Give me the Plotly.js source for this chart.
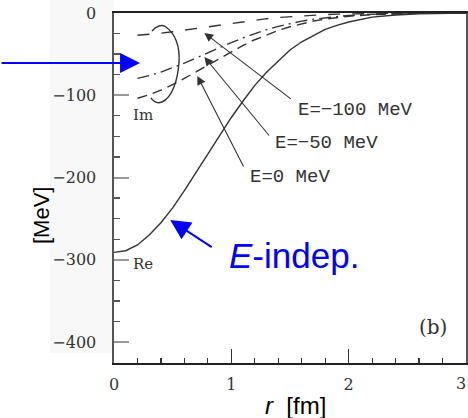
<!DOCTYPE html>
<html>
<head>
<meta charset="utf-8">
<script src="https://cdn.plot.ly/plotly-3.0.1.min.js"></script>
<style>
  html, body { margin: 0; padding: 0; background: #fff; }
  #plot { width: 468px; height: 418px; }
</style>
</head>
<body>
<div id="plot"></div>
<script>
// Radial grid (fm) for the real part and for the imaginary parts
const rRe = [0, 0.1, 0.2, 0.3, 0.4, 0.5, 0.6, 0.7, 0.8, 0.9, 1.0, 1.1, 1.2, 1.3, 1.4, 1.5, 1.6, 1.7, 1.8, 1.9, 2.0, 2.2, 2.4, 2.6, 2.8, 3.0];
const rIm = [0.2, 0.3, 0.4, 0.5, 0.6, 0.7, 0.8, 0.9, 1.0, 1.1, 1.2, 1.3, 1.4, 1.5, 1.6, 1.7, 1.8, 1.9, 2.0, 2.2, 2.4, 2.6, 2.8, 3.0];

// Energy-independent real part (MeV)
const reIndep = [-291, -289, -282, -270, -255, -237, -216, -194, -171, -149, -127, -107, -88, -72, -58, -45, -35, -27, -20, -15, -11, -5, -2.5, -1, -0.4, 0];

// Imaginary parts (MeV) at three energies
const imEm100 = [-27.1, -26.0, -24.5, -22.8, -20.8, -18.7, -16.5, -14.3, -12.3, -10.3, -8.5, -6.9, -5.5, -4.4, -3.4, -2.6, -1.9, -1.4, -1.0, -0.5, -0.2, -0.1, 0, 0];
const imEm50 = [-79.4, -76.1, -71.8, -66.7, -60.9, -54.7, -48.3, -42.0, -35.9, -30.2, -24.9, -20.3, -16.2, -12.8, -9.9, -7.5, -5.7, -4.2, -3.0, -1.5, -0.7, -0.3, -0.1, 0];
const imE0 = [-103.6, -99.3, -93.7, -87.1, -79.5, -71.4, -63.0, -54.8, -46.9, -39.4, -32.5, -26.4, -21.2, -16.7, -12.9, -9.8, -7.4, -5.5, -4.0, -1.9, -0.9, -0.4, -0.2, 0];

const energyLabels = ['E=\u2212100 MeV', 'E=\u221250 MeV', 'E=0 MeV'];
const xTicks = [0, 1, 2, 3];
const yTicks = [0, -100, -200, -300, -400];
const yTickText = ['0', '\u2212100', '\u2212200', '\u2212300', '\u2212400'];

const ink = '#333';
const blue = '#0000ff';
const serif = 'DejaVu Serif, serif';
const mono = 'Liberation Mono, monospace';
const sans = 'Liberation Sans, Arial, sans-serif';
const tickFont = { family: serif, size: 16, color: ink };

const traces = [
  { x: rRe, y: reIndep, mode: 'lines', line: { color: ink, width: 1.4 }, hoverinfo: 'skip' },
  { x: rIm, y: imEm100, mode: 'lines', line: { color: ink, width: 1.4, dash: '12px,12px' }, hoverinfo: 'skip' },
  { x: rIm, y: imEm50, mode: 'lines', line: { color: ink, width: 1.4, dash: '12px,5px,2px,5px' }, hoverinfo: 'skip' },
  { x: rIm, y: imE0, mode: 'lines', line: { color: ink, width: 1.4, dash: '10px,6px' }, hoverinfo: 'skip' }
];

function arrow(x, y, ax, ay, color, width, size) {
  return { x: x, y: y, xref: 'x', yref: 'y', ax: ax, ay: ay, text: '', showarrow: true,
           arrowhead: 2, arrowsize: size, arrowwidth: width, arrowcolor: color };
}
function label(x, y, text, font, extra) {
  return Object.assign({ x: x, y: y, xref: 'x', yref: 'y', text: text, showarrow: false, font: font,
                         xanchor: 'center', yanchor: 'middle' }, extra || {});
}

const annotations = [
  // pointers from the energy labels to the imaginary-part curves
  arrow(0.77, -24.3, 88, 67, ink, 1.1, 1.6),
  arrow(0.77, -53.5, 66, 80, ink, 1.1, 1.6),
  arrow(0.71, -76.6, 47, 92, ink, 1.1, 1.6),
  label(2.06, -118, energyLabels[0], { family: mono, size: 19, color: ink }),
  label(1.81, -158, energyLabels[1], { family: mono, size: 19, color: ink }),
  label(1.496, -199.4, energyLabels[2], { family: mono, size: 19, color: ink }),
  label(0.248, -124, 'Im', { family: serif, size: 15, color: ink }),
  label(0.248, -305, 'Re', { family: serif, size: 15, color: ink }),
  label(2.718, -381.8, '(b)', { family: serif, size: 20, color: ink }),
  // last x tick label, kept inside the right edge of the page
  { x: xTicks[3], y: 0, xref: 'x', yref: 'paper', yshift: -20, xshift: 2, text: String(xTicks[3]), showarrow: false,
    font: tickFont, xanchor: 'right', yanchor: 'middle' },
  // blue markers
  arrow(0.222, -60.8, -140, 0, blue, 2, 2),
  arrow(0.479, -251.7, 43, 28, blue, 2, 2),
  label(1.538, -294.2, '<i>E</i>-indep.', { family: sans, size: 35, color: blue }),
  // axis titles
  { xref: 'paper', yref: 'paper', x: (41 - 114) / 352, y: (363 - 216) / 350, text: '[MeV]',
    xanchor: 'center', yanchor: 'middle',
    textangle: -90, showarrow: false, font: { family: sans, size: 22, color: '#000' } },
  { xref: 'paper', yref: 'paper', x: (295 - 114) / 352, y: (363 - 405) / 350, text: '<i>r</i>  [fm]',
    xanchor: 'center', yanchor: 'middle',
    showarrow: false, font: { family: sans, size: 24, color: '#000' } }
];

const shapes = [
  // faint panel behind the y tick labels
  { type: 'rect', xref: 'paper', yref: 'paper', x0: (50 - 114) / 352, x1: 0, y0: (363 - 353) / 350, y1: 1 + 13 / 350,
    fillcolor: '#f8f8f8', line: { width: 0 }, layer: 'below' },
  // loop around the imaginary parts
  { type: 'path', xref: 'x', yref: 'y', layer: 'above', line: { color: ink, width: 1.4 },
    path: 'M 0.324,-21.9 C 0.358,-15.8 0.409,-13.4 0.443,-17.0 C 0.528,-25.5 0.5625,-42.5 0.554,-59.6 ' +
          'C 0.545,-81.4 0.494,-103.3 0.409,-108.2 C 0.366,-110.6 0.332,-107.0 0.315,-103.3' }
];

const layout = {
  width: 468, height: 418,
  margin: { l: 114, r: 2, t: 13, b: 55 },
  paper_bgcolor: '#fff', plot_bgcolor: '#fff',
  showlegend: false,
  xaxis: {
    range: [0, 3], tickvals: xTicks, ticktext: xTicks.map(String),
    ticks: 'inside', ticklen: 14, tickwidth: 1.3, tickcolor: ink,
    minor: { dtick: 0.2, ticks: 'inside', ticklen: 5, tickwidth: 1.2, tickcolor: ink },
    showline: true, linecolor: '#222', linewidth: 2, mirror: true,
    showgrid: false, zeroline: false, ticklabelstandoff: 6,
    tickfont: tickFont
  },
  yaxis: {
    range: [-425.5, 0], tickvals: yTicks, ticktext: yTickText,
    ticks: 'inside', ticklen: 15, tickwidth: 2, tickcolor: '#999',
    minor: { dtick: 25, ticks: 'inside', ticklen: 6, tickwidth: 1.3, tickcolor: '#555' },
    showline: true, linecolor: '#555', linewidth: 2.5, mirror: true,
    showgrid: false, zeroline: false, ticklabelstandoff: 12,
    tickfont: tickFont
  },
  annotations: annotations,
  shapes: shapes
};

Plotly.newPlot('plot', traces, layout, { staticPlot: true, displayModeBar: false });
</script>
</body>
</html>
